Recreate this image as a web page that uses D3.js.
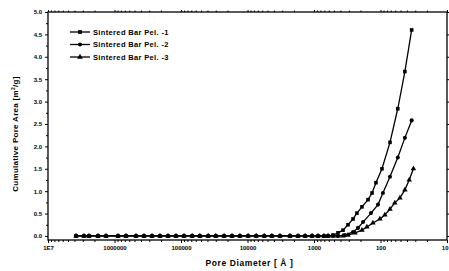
<!DOCTYPE html>
<html>
<head>
<meta charset="utf-8">
<script src="https://cdn.jsdelivr.net/npm/d3@7"></script>
<style>
  body { margin: 0; background: #fff; }
  text { font-family: "Liberation Sans", Arial, sans-serif; font-weight: bold; fill: #000; }
</style>
</head>
<body>
<div id="chart"></div>
<script>
var margin = {top: 12, right: 2, bottom: 31, left: 48},
    width = 449 - margin.left - margin.right,
    height = 271 - margin.top - margin.bottom;

// pore diameters (Å) and cumulative pore area (m2/g)
var baseDiam = [3.79e6, 2.88e6, 2.42e6, 1.77e6, 1.34e6, 8.86e5, 6.72e5, 4.75e5, 3.60e5, 2.73e5,
                2.07e5, 1.57e5, 1.19e5, 9.0e4, 6.8e4, 5.2e4, 3.9e4, 3.0e4, 2.25e4, 1.71e4,
                1.30e4, 9.8e3, 7.4e3, 5.6e3, 4.3e3, 3.25e3, 2.3e3, 1.74e3, 1.36e3, 1.07e3,
                870, 708, 615];

var diam1 = [518, 436, 366, 308, 259, 226, 190, 154, 134, 117, 95, 72, 55, 43, 34];
var area1 = [0.02, 0.07, 0.13, 0.25, 0.38, 0.51, 0.65, 0.81, 0.96, 1.19, 1.50, 2.09, 2.84, 3.67, 4.60];

var diam2 = [518, 436, 342, 259, 218, 183, 139, 109, 92, 72, 55, 43, 34];
var area2 = [0.0, 0.0, 0.02, 0.09, 0.18, 0.31, 0.51, 0.70, 0.96, 1.32, 1.75, 2.19, 2.58];

var diam3 = [518, 436, 366, 308, 242, 190, 160, 130, 102, 86, 72, 61, 51, 43, 37, 32];
var area3 = [0.0, 0.0, 0.0, 0.02, 0.07, 0.13, 0.20, 0.29, 0.38, 0.47, 0.60, 0.74, 0.85, 1.03, 1.25, 1.50];

var seriesNames = ["Sintered Bar Pel. -1", "Sintered Bar Pel. -2", "Sintered Bar Pel. -3"];
var seriesSymbols = [d3.symbolSquare, d3.symbolCircle, d3.symbolTriangle];
var xTicks = [1e7, 1e6, 1e5, 1e4, 1e3, 100, 10];
var xTickLabels = ["1E7", "1000000", "100000", "10000", "1000", "100", "10"];
var yTicks = [0, 0.5, 1.0, 1.5, 2.0, 2.5, 3.0, 3.5, 4.0, 4.5, 5.0];

function build(diam, area) {
    var pts = baseDiam.map(function(d) { return {d: d, a: 0}; });
    diam.forEach(function(d, i) { pts.push({d: d, a: area[i]}); });
    return pts;
}
var series = [build(diam1, area1), build(diam2, area2), build(diam3, area3)];

var svg = d3.select("#chart").append("svg")
    .attr("width", width + margin.left + margin.right)
    .attr("height", height + margin.top + margin.bottom)
    .append("g")
    .attr("transform", "translate(" + margin.left + "," + margin.top + ")");

var x = d3.scaleLog().domain([1e7, 10]).range([0, width]);
var y = d3.scaleLinear().domain([-0.09, 5]).range([height, 0]);

// minor ticks
var xMinor = [];
for (var e = 1; e < 7; e++) {
    for (var m = 2; m < 10; m++) xMinor.push(m * Math.pow(10, e));
}
var yMinor = d3.range(0.25, 5, 0.5);

// frame
svg.append("rect")
    .attr("width", width).attr("height", height)
    .attr("fill", "none").attr("stroke", "#000").attr("stroke-width", 1.3);

// x axis bottom
svg.append("g").attr("transform", "translate(0," + height + ")")
    .call(d3.axisBottom(x).tickValues(xTicks).tickFormat(function(d, i) { return xTickLabels[i]; }).tickSize(3).tickPadding(3));
svg.append("g").attr("transform", "translate(0," + height + ")")
    .call(d3.axisBottom(x).tickValues(xMinor).tickFormat("").tickSize(2));
// top ticks
svg.append("g").call(d3.axisTop(x).tickValues(xTicks).tickFormat("").tickSize(2));
svg.append("g").call(d3.axisTop(x).tickValues(xMinor).tickFormat("").tickSize(1.5));

// y axis
svg.append("g")
    .call(d3.axisLeft(y).tickValues(yTicks).tickFormat(d3.format(".1f")).tickSize(3).tickPadding(3));
svg.append("g").call(d3.axisLeft(y).tickValues(yMinor).tickFormat("").tickSize(2));
svg.append("g").attr("transform", "translate(" + width + ",0)")
    .call(d3.axisRight(y).tickValues(yTicks).tickFormat("").tickSize(2));

svg.selectAll(".domain").remove();
svg.selectAll(".tick line").attr("stroke", "#000").attr("stroke-width", 1);
svg.selectAll(".tick text").style("font-size", "6px").style("font-family", "'Liberation Sans', Arial, sans-serif").style("font-weight", "bold");
// keep the last x label inside the window
svg.selectAll(".tick text").filter(function(d) { return d === 10; }).attr("text-anchor", "end").attr("dx", "1px");

// lines and markers
var line = d3.line().x(function(p) { return x(p.d); }).y(function(p) { return y(p.a); });

series.forEach(function(pts, i) {
    svg.append("path")
        .datum(pts)
        .attr("d", line)
        .attr("fill", "none")
        .attr("stroke", "#000")
        .attr("stroke-width", 1.3);

    svg.selectAll(".pt" + i)
        .data(pts)
        .enter().append("path")
        .attr("class", "pt" + i)
        .attr("transform", function(p) { return "translate(" + x(p.d) + "," + y(p.a) + ")"; })
        .attr("d", d3.symbol().type(seriesSymbols[i]).size(13))
        .attr("fill", "#000");
});

// legend
var legend = svg.append("g").attr("transform", "translate(22,20)");
seriesNames.forEach(function(name, i) {
    var g = legend.append("g").attr("transform", "translate(0," + (i * 12.5) + ")");
    g.append("line").attr("x1", 0).attr("x2", 20).attr("stroke", "#000").attr("stroke-width", 1.3);
    g.append("path").attr("transform", "translate(10,0)")
        .attr("d", d3.symbol().type(seriesSymbols[i]).size(14)).attr("fill", "#000");
    g.append("text").attr("x", 23).attr("y", 2.6)
        .style("font-size", "7.5px").style("letter-spacing", "0.35px").text(name);
});

// axis titles
svg.append("text")
    .attr("x", width / 2 + 2).attr("y", height + 26)
    .attr("text-anchor", "middle")
    .style("font-size", "8.5px").style("letter-spacing", "0.6px")
    .text("Pore Diameter [ Å ]");

svg.append("text")
    .attr("transform", "translate(-30," + (height / 2 + 8) + ") rotate(-90)")
    .attr("text-anchor", "middle")
    .style("font-size", "8px").style("letter-spacing", "0.3px")
    .html("Cumulative Pore Area [m<tspan dy='-3' font-size='5px'>2</tspan><tspan dy='3'>/g]</tspan>");
</script>
</body>
</html>
